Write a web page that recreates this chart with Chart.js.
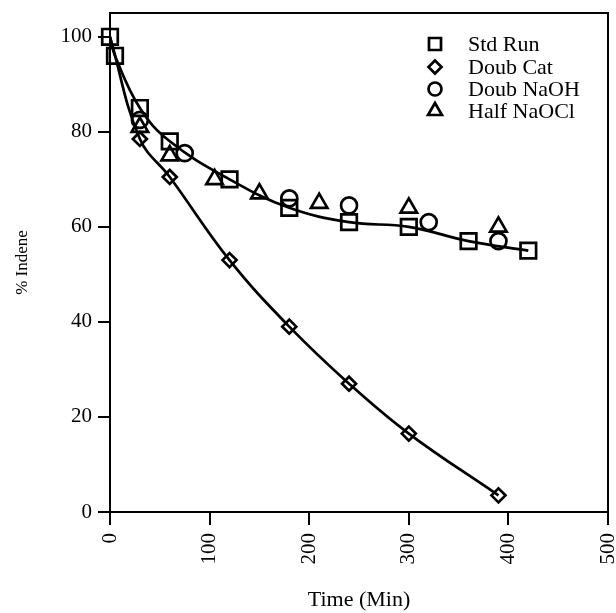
<!DOCTYPE html>
<html>
<head>
<meta charset="utf-8">
<script src="https://cdn.jsdelivr.net/npm/chart.js@4/dist/chart.umd.min.js"></script>
<style>
html,body{margin:0;padding:0;background:#fff;}
#wrap{width:616px;height:613px;}
</style>
</head>
<body>
<div id="wrap"><canvas id="c" width="616" height="613"></canvas></div>
<script>
// ---- data ----
const seriesNames = ['Std Run', 'Doub Cat', 'Doub NaOH', 'Half NaOCl'];
const stdTime  = [0, 5, 30, 60, 120, 180, 240, 300, 360, 420];
const stdVal   = [100, 96, 85, 78, 70, 64, 61, 60, 57, 55];
const catTime  = [0, 30, 60, 120, 180, 240, 300, 390];
const catVal   = [100, 78.5, 70.5, 53, 39, 27, 16.5, 3.5];
const naohTime = [30, 75, 180, 240, 320, 390];
const naohVal  = [82.5, 75.5, 66, 64.5, 61, 57];
const naoclTime = [30, 60, 105, 150, 210, 300, 390];
const naoclVal  = [81, 75, 70, 67, 65, 64, 60];
const xTicks = [0, 100, 200, 300, 400, 500];
const yTicks = [0, 20, 40, 60, 80, 100];
const xTitle = 'Time (Min)';
const yTitle = '% Indene';

const toPts = (xs, ys) => xs.map((x, i) => ({x: x, y: ys[i]}));
const FONT = 'Liberation Serif, Times New Roman, serif';
Chart.defaults.color = '#000';
Chart.defaults.font.family = FONT;

const markerStyles = [
  {style: 'rect', r: 11, legendR: 8.5},
  {style: 'rectRot', r: 7, legendR: 6.5},
  {style: 'circle', r: 8, legendR: 6.5},
  {style: 'triangle', r: 9.5, legendR: 8}
];

function drawMarker(ctx, style, x, y, r) {
  ctx.beginPath();
  if (style === 'rect') {
    const s = Math.SQRT1_2 * r;
    ctx.rect(x - s, y - s, 2 * s, 2 * s);
  } else if (style === 'rectRot') {
    ctx.moveTo(x, y - r); ctx.lineTo(x + r, y); ctx.lineTo(x, y + r); ctx.lineTo(x - r, y); ctx.closePath();
  } else if (style === 'circle') {
    ctx.arc(x, y, r, 0, Math.PI * 2);
  } else {
    ctx.moveTo(x, y - r);
    ctx.lineTo(x + Math.sin(2 * Math.PI / 3) * r, y - Math.cos(2 * Math.PI / 3) * r);
    ctx.lineTo(x + Math.sin(4 * Math.PI / 3) * r, y - Math.cos(4 * Math.PI / 3) * r);
    ctx.closePath();
  }
  ctx.stroke();
}

const boxAndLegend = {
  id: 'boxAndLegend',
  afterDraw(chart) {
    const ctx = chart.ctx, a = chart.chartArea;
    ctx.save();
    ctx.strokeStyle = '#000';
    ctx.lineWidth = 2;
    ctx.strokeRect(a.left, a.top, a.right - a.left, a.bottom - a.top);
    // legend
    const rows = [44, 67, 89, 111];
    ctx.lineWidth = 2.7;
    ctx.font = '22px ' + FONT;
    ctx.fillStyle = '#000';
    ctx.textBaseline = 'middle';
    chart.data.datasets.forEach((ds, i) => {
      const m = markerStyles[i];
      drawMarker(ctx, m.style, 435, rows[i], m.legendR);
      ctx.fillText(ds.label, 468, rows[i] + 1);
    });
    ctx.restore();
  }
};

const common = {
  borderColor: '#000',
  pointBorderColor: '#000',
  pointBackgroundColor: 'rgba(0,0,0,0)',
  backgroundColor: 'rgba(0,0,0,0)',
  pointBorderWidth: 2.7,
  borderWidth: 2.7,
  clip: false,
  tension: 0.4
};

new Chart(document.getElementById('c'), {
  type: 'scatter',
  data: {
    datasets: [
      Object.assign({}, common, {label: seriesNames[0], data: toPts(stdTime, stdVal), showLine: true,
        pointStyle: markerStyles[0].style, pointRadius: markerStyles[0].r}),
      Object.assign({}, common, {label: seriesNames[1], data: toPts(catTime, catVal), showLine: true,
        pointStyle: markerStyles[1].style, pointRadius: (c) => c.dataIndex === 0 ? 0 : markerStyles[1].r}),
      Object.assign({}, common, {label: seriesNames[2], data: toPts(naohTime, naohVal), showLine: false,
        pointStyle: markerStyles[2].style, pointRadius: markerStyles[2].r}),
      Object.assign({}, common, {label: seriesNames[3], data: toPts(naoclTime, naoclVal), showLine: false,
        pointStyle: markerStyles[3].style, pointRadius: markerStyles[3].r})
    ]
  },
  options: {
    responsive: false,
    animation: false,
    devicePixelRatio: 1,
    layout: {autoPadding: false, padding: {top: 13, right: 8, left: 0, bottom: 0}},
    plugins: {legend: {display: false}, tooltip: {enabled: false}},
    elements: {point: {hoverRadius: 0}},
    scales: {
      x: {
        type: 'linear', min: 0, max: 500,
        afterBuildTicks: (s) => { s.ticks = xTicks.map(v => ({value: v})); },
        afterFit: (s) => { s.height = 101; s.paddingLeft = 0; s.paddingRight = 0; },
        ticks: {minRotation: 90, maxRotation: 90, padding: 8, font: {size: 21, family: FONT}, color: '#000'},
        grid: {display: true, drawOnChartArea: false, drawTicks: true, tickLength: 13, color: '#000', lineWidth: 2},
        border: {display: true, color: '#000', width: 2},
        title: {display: true, text: xTitle, font: {size: 22, family: FONT}, color: '#000', padding: {top: 3, bottom: 0}}
      },
      y: {
        type: 'linear', min: 0, max: 105,
        afterBuildTicks: (s) => { s.ticks = yTicks.map(v => ({value: v})); },
        afterFit: (s) => { s.width = 110; s.paddingTop = 0; s.paddingBottom = 0; },
        ticks: {padding: 6, font: {size: 21, family: FONT}, color: '#000'},
        grid: {display: true, drawOnChartArea: false, drawTicks: true, tickLength: 12, color: '#000', lineWidth: 2},
        border: {display: true, color: '#000', width: 2},
        title: {display: true, text: yTitle, font: {size: 17, family: FONT}, color: '#000', padding: {top: 12, bottom: 0}}
      }
    }
  },
  plugins: [boxAndLegend]
});
</script>
</body>
</html>
